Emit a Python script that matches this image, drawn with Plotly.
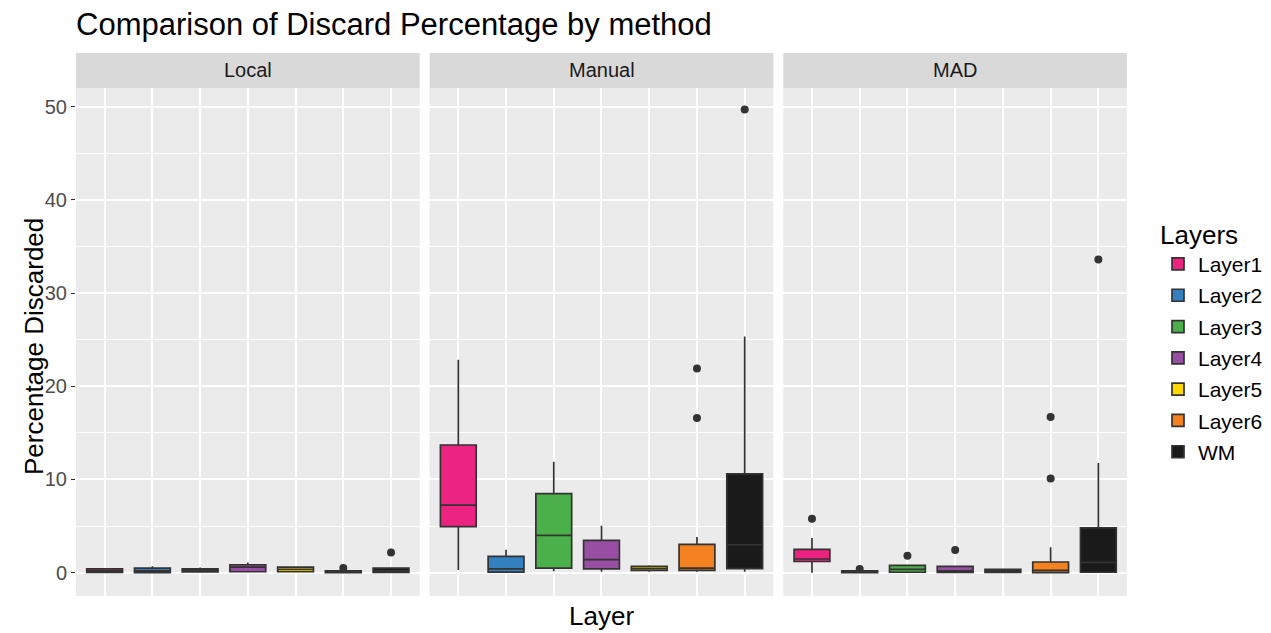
import plotly.graph_objects as go
from plotly.subplots import make_subplots

methods = ["Local", "Manual", "MAD"]
layers = ["Layer1", "Layer2", "Layer3", "Layer4", "Layer5", "Layer6", "WM"]
colors = ["#EC2380", "#3380C0", "#4CB04A", "#984EA3", "#FFD800", "#F58220", "#1A1A1A"]

# per method: lists in layer order
lowerfence = {
    "Local":  [0.0, 0.0, 0.05, 0.05, 0.05, 0.0, 0.0],
    "Manual": [0.3, 0.0, 0.15, 0.1, 0.1, 0.1, 0.1],
    "MAD":    [0.0, 0.0, 0.0, 0.0, 0.0, 0.0, 0.0],
}
q1 = {
    "Local":  [0.02, 0.0, 0.08, 0.1, 0.1, 0.0, 0.02],
    "Manual": [4.94, 0.07, 0.5, 0.4, 0.25, 0.25, 0.43],
    "MAD":    [1.2, 0.0, 0.05, 0.02, 0.02, 0.0, 0.05],
}
median = {
    "Local":  [0.2, 0.2, 0.25, 0.6, 0.35, 0.05, 0.2],
    "Manual": [7.26, 0.4, 4.0, 1.4, 0.45, 0.5, 3.0],
    "MAD":    [1.47, 0.05, 0.35, 0.2, 0.2, 0.25, 1.1],
}
q3 = {
    "Local":  [0.4, 0.5, 0.4, 0.85, 0.6, 0.2, 0.5],
    "Manual": [13.7, 1.75, 8.48, 3.47, 0.68, 3.04, 10.6],
    "MAD":    [2.5, 0.2, 0.78, 0.68, 0.35, 1.15, 4.8],
}
upperfence = {
    "Local":  [0.45, 0.68, 0.55, 1.1, 0.65, 0.25, 0.55],
    "Manual": [22.85, 2.47, 11.9, 5.04, 0.8, 3.83, 25.35],
    "MAD":    [3.72, 0.25, 0.86, 0.7, 0.4, 2.72, 11.77],
}
# outliers: (method, layer, value)
out_method = ["Local", "Local", "Manual", "Manual", "Manual", "MAD", "MAD", "MAD", "MAD", "MAD", "MAD", "MAD"]
out_layer = ["Layer6", "WM", "Layer6", "Layer6", "WM", "Layer1", "Layer2", "Layer3", "Layer4", "Layer6", "Layer6", "WM"]
out_value = [0.5, 2.18, 21.9, 16.6, 49.7, 5.8, 0.4, 1.82, 2.43, 10.1, 16.7, 33.6]

W, H = 1271, 633
L, R, T, B = 76, 1127, 53, 596
pw = R - L
ph = B - T
dom_top = (B - 88) / ph

fig = make_subplots(rows=1, cols=3, shared_yaxes=True, horizontal_spacing=10 / pw)

for ci, m in enumerate(methods):
    for li, lay in enumerate(layers):
        fig.add_trace(go.Box(
            x=[lay], q1=[q1[m][li]], median=[median[m][li]], q3=[q3[m][li]],
            lowerfence=[lowerfence[m][li]], upperfence=[upperfence[m][li]],
            name=lay, legendgroup=lay, showlegend=(ci == 0),
            fillcolor=colors[li], line=dict(color="#333333", width=1.7),
            whiskerwidth=0, width=0.75, boxpoints=False,
        ), row=1, col=ci + 1)
    xs = [l for mm, l in zip(out_method, out_layer) if mm == m]
    ys = [v for mm, v in zip(out_method, out_value) if mm == m]
    fig.add_trace(go.Scatter(
        x=xs, y=ys, mode="markers", showlegend=False, hoverinfo="skip",
        marker=dict(color="#333333", size=8),
    ), row=1, col=ci + 1)

for ci in range(3):
    fig.update_xaxes(
        row=1, col=ci + 1, type="category", categoryorder="array", categoryarray=layers,
        range=[-0.6, 6.6], showticklabels=False, ticks="", showgrid=True,
        gridcolor="white", gridwidth=1.6, zeroline=False, showline=False,
    )
    fig.update_yaxes(
        row=1, col=ci + 1, range=[-2.5, 52.0], domain=[0, dom_top],
        tickvals=[0, 10, 20, 30, 40, 50], showgrid=True, gridcolor="white", gridwidth=1.6,
        minor=dict(tickvals=[5, 15, 25, 35, 45], showgrid=True, gridcolor="white", gridwidth=0.8),
        zeroline=False, showline=False,
    )
fig.update_yaxes(row=1, col=1, ticks="outside", ticklen=4, tickcolor="#333333", tickwidth=1,
                 tickfont=dict(size=20, color="#4D4D4D"))

# strips
shapes = []
annotations = []
for ci, m in enumerate(methods):
    xa = fig.layout["xaxis" if ci == 0 else f"xaxis{ci+1}"]
    d0, d1 = xa.domain
    shapes.append(dict(type="rect", xref="paper", yref="paper", x0=d0, x1=d1,
                       y0=dom_top, y1=1.0, fillcolor="#D9D9D9", line=dict(width=0), layer="below"))
    annotations.append(dict(text=m, xref="paper", yref="paper", x=(d0 + d1) / 2,
                            y=(dom_top + 1) / 2, showarrow=False, xanchor="center", yanchor="middle",
                            font=dict(size=20, color="#1A1A1A")))

annotations.append(dict(text="Layer", xref="paper", yref="paper", x=0.5, y=-(616 - B) / ph,
                        showarrow=False, xanchor="center", yanchor="middle",
                        font=dict(size=26, color="black")))
annotations.append(dict(text="Percentage Discarded", xref="paper", yref="paper",
                        x=(34 - L) / pw, y=(B - 347) / ph, textangle=-90, showarrow=False,
                        xanchor="center", yanchor="middle", font=dict(size=26, color="black")))

fig.update_layout(
    width=W, height=H,
    margin=dict(l=L, r=W - R, t=T, b=H - B, autoexpand=False),
    paper_bgcolor="white", plot_bgcolor="#EBEBEB",
    font=dict(family="Liberation Sans, Arial, sans-serif"),
    title=dict(text="Comparison of Discard Percentage by method", xref="container", x=L / W,
               xanchor="left", y=1 - 24 / H, yanchor="middle",
               font=dict(size=31, color="black")),
    boxmode="overlay",
    shapes=shapes, annotations=annotations,
    legend=dict(title=dict(text="Layers", font=dict(size=26, color="black")),
                font=dict(size=21, color="black"), x=(1158 - L) / pw, xanchor="left",
                y=(B - 210) / ph, yanchor="top", tracegroupgap=1, bgcolor="rgba(0,0,0,0)"),
)

fig.write_html("out.html", config={"displayModeBar": False},
               post_script="document.body.style.margin='0px';document.body.style.overflow='hidden';")
